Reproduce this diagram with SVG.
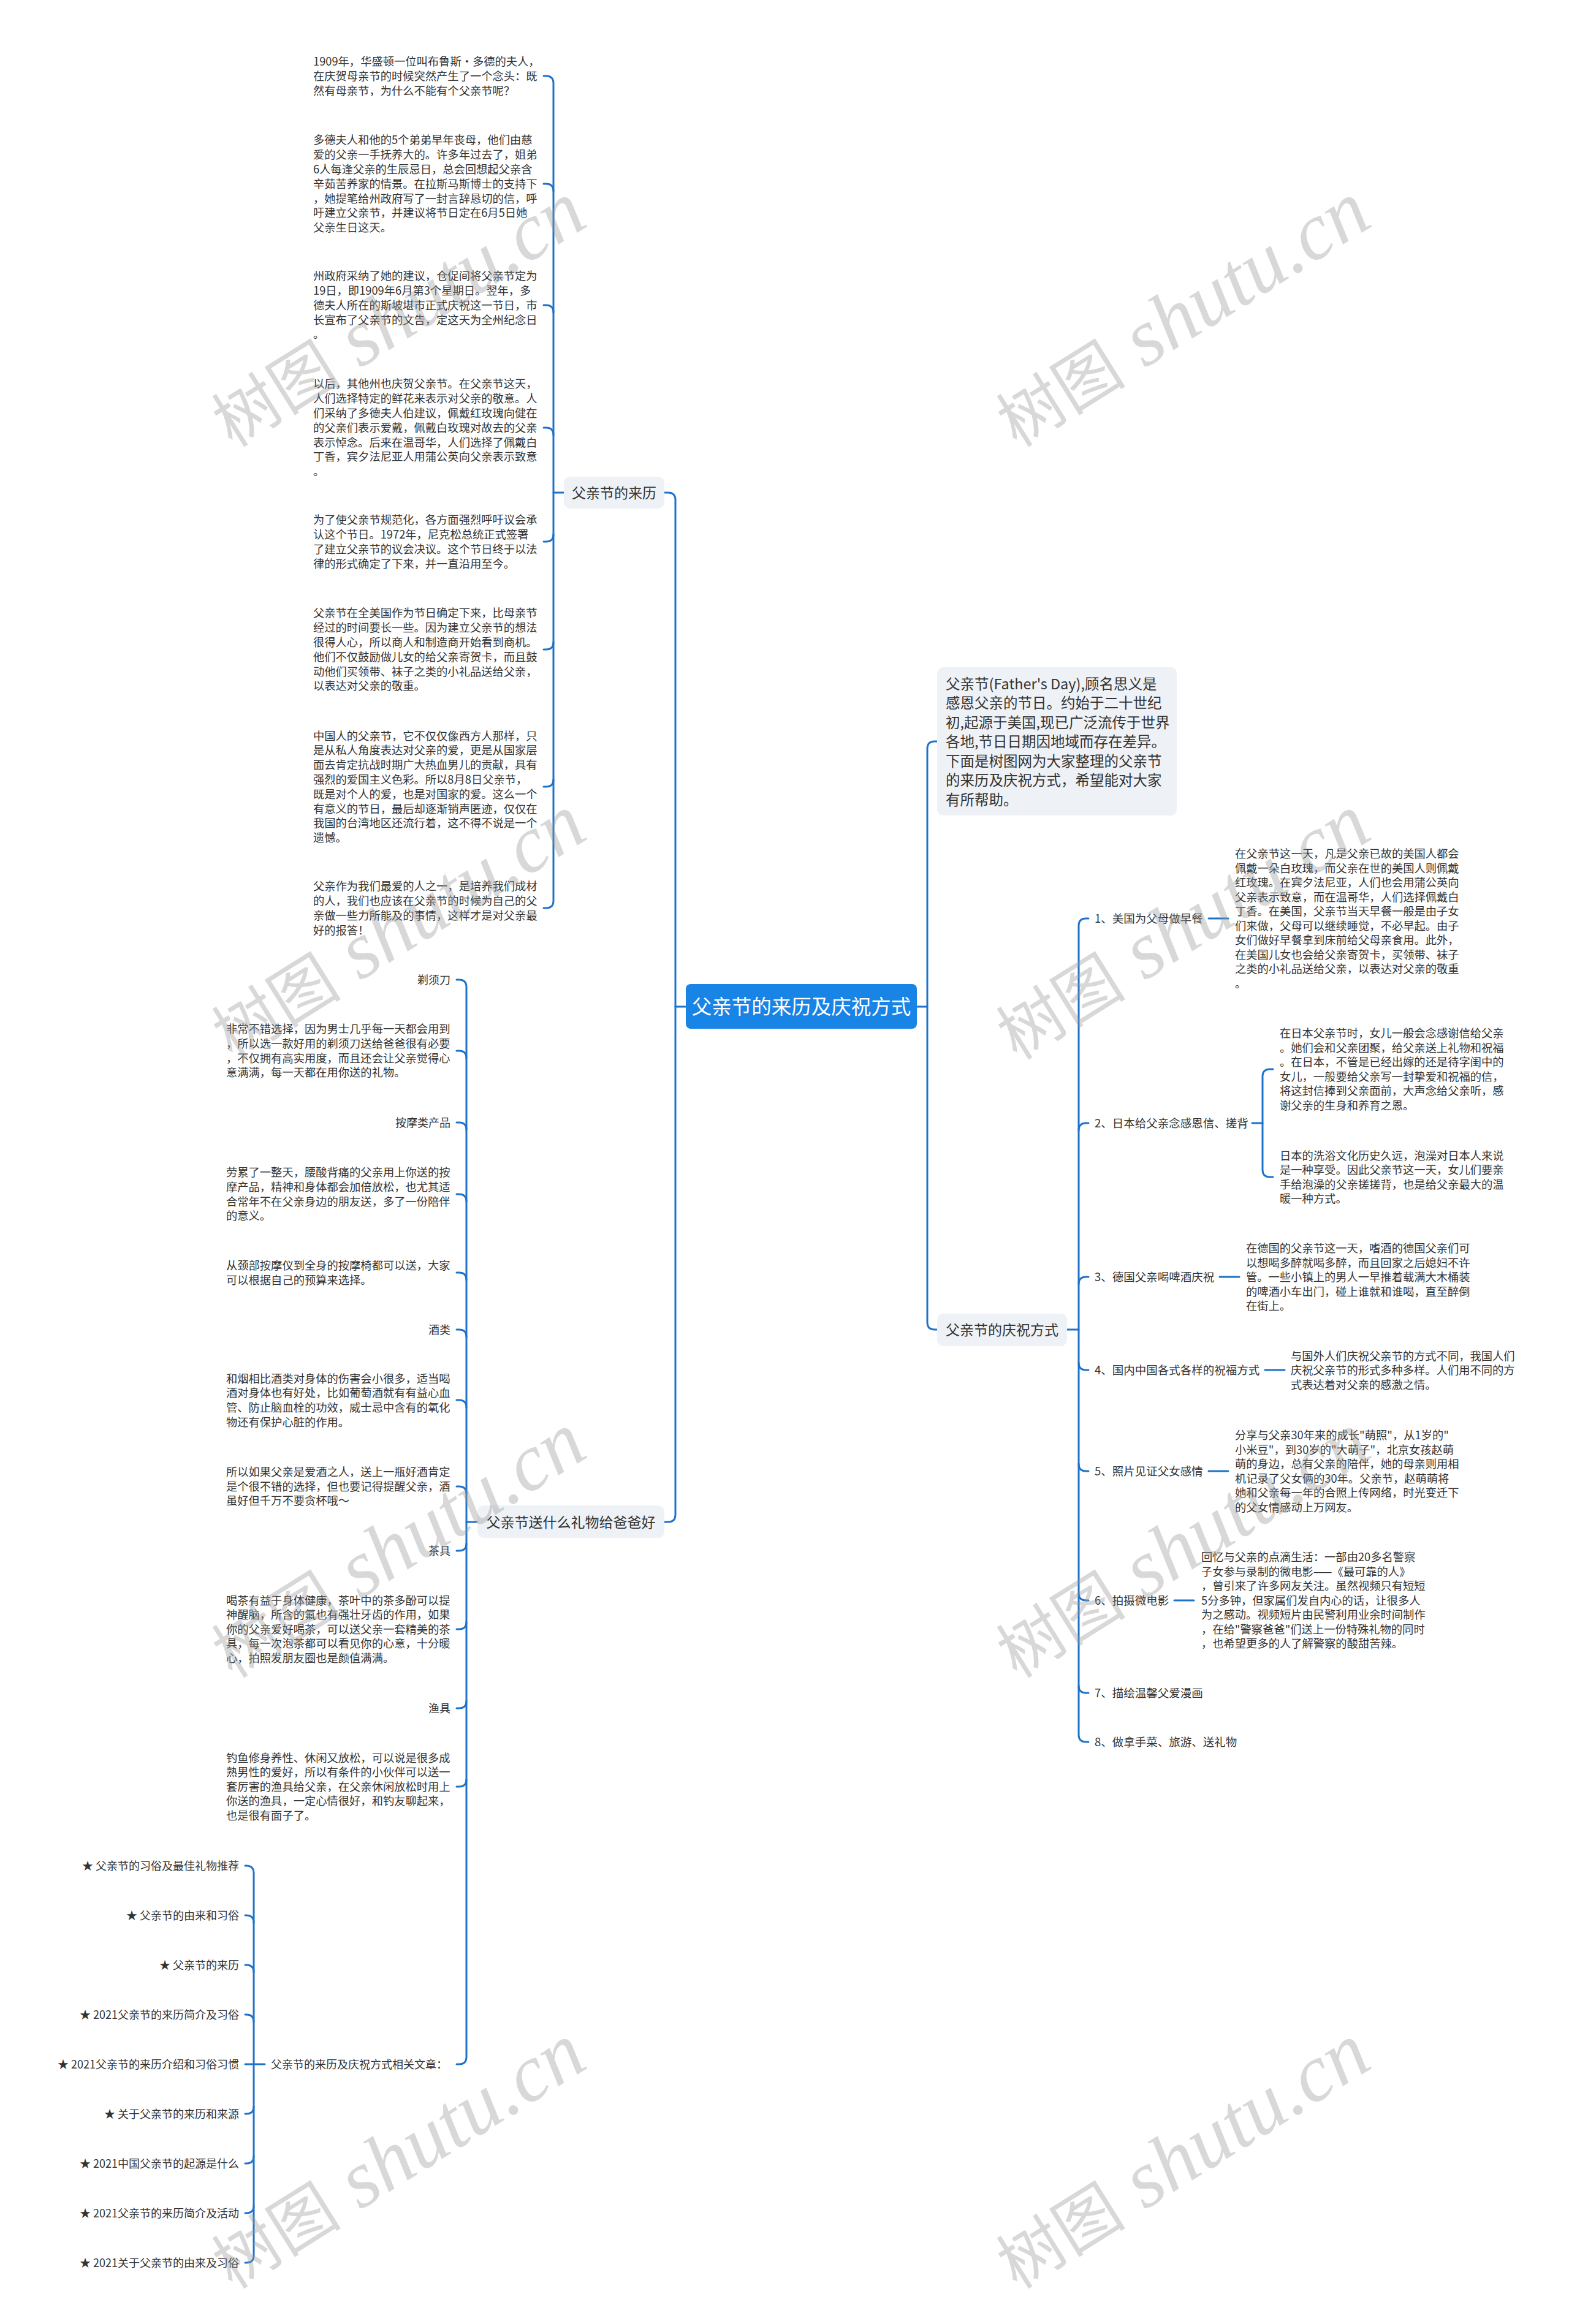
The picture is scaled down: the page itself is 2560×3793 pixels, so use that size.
<svg xmlns="http://www.w3.org/2000/svg" width="2560" height="3793" viewBox="0 0 2560 3793">
<style>
.tx{font-family:"Noto Sans CJK SC","Liberation Sans",sans-serif;fill:#333}
.f18{font-size:18.3px}
.fi{font-size:18.5px}
.fa{font-size:18px}
.f23{font-size:23px}
.fin{font-size:23.5px}
.box{fill:#eef1f5}
.ln{fill:none;stroke:#1d72c9;stroke-width:3;stroke-linecap:round;stroke-linejoin:round}
.wm{font-family:"Liberation Serif",serif;font-style:italic;font-size:132px;fill:#999;fill-opacity:0.38}
.wm tspan.c{font-family:"Noto Sans CJK SC",sans-serif;font-style:normal;font-size:106px}
</style>
<rect width="2560" height="3793" fill="#ffffff"/>

<g id="connectors">
<path class="ln" d="M1496,1643 H1513"/>
<path class="ln" d="M1529,1210 H1525 Q1513,1210 1513,1222 V2158 Q1513,2170 1525,2170 H1529"/>
<path class="ln" d="M1119,1643 H1102"/>
<path class="ln" d="M1084,804 H1090 Q1102,804 1102,816 V2472 Q1102,2484 1090,2484 H1084"/>
<path class="ln" d="M920,804 H903"/>
<path class="ln" d="M887,124 H891 Q903,124 903,136 V1470 Q903,1482 891,1482 H887"/>
<path class="ln" d="M887,300 H891 Q903,300 903,312 M887,498 H891 Q903,498 903,510 M887,698 H891 Q903,698 903,710 M887,884 H891 Q903,884 903,872 M887,1060 H891 Q903,1060 903,1048 M887,1284 H891 Q903,1284 903,1272"/>
<path class="ln" d="M1741,2170 H1760"/>
<path class="ln" d="M1776,1499 H1772 Q1760,1499 1760,1511 V2831 Q1760,2843 1772,2843 H1776"/>
<path class="ln" d="M1776,1833 H1772 Q1760,1833 1760,1845 M1776,2084 H1772 Q1760,2084 1760,2096 M1776,2236 H1772 Q1760,2236 1760,2224 M1776,2401 H1772 Q1760,2401 1760,2389 M1776,2612 H1772 Q1760,2612 1760,2600 M1776,2763 H1772 Q1760,2763 1760,2751"/>
<path class="ln" d="M1972,1499 H2004"/>
<path class="ln" d="M2043,1833 H2060"/>
<path class="ln" d="M2077,1745 H2072 Q2060,1745 2060,1757 V1909 Q2060,1921 2072,1921 H2077"/>
<path class="ln" d="M1990,2084 H2022"/>
<path class="ln" d="M2064,2236 H2096"/>
<path class="ln" d="M1972,2401 H2004"/>
<path class="ln" d="M1916,2612 H1948"/>
<path class="ln" d="M779,2484 H761"/>
<path class="ln" d="M745,1599 H749 Q761,1599 761,1611 V3357 Q761,3369 749,3369 H745"/>
<path class="ln" d="M745,1715 H749 Q761,1715 761,1727 M745,1832 H749 Q761,1832 761,1844 M745,1949 H749 Q761,1949 761,1961 M745,2077 H749 Q761,2077 761,2089 M745,2170 H749 Q761,2170 761,2182 M745,2285 H749 Q761,2285 761,2297 M745,2426 H749 Q761,2426 761,2438 M745,2531 H749 Q761,2531 761,2519 M745,2659 H749 Q761,2659 761,2647 M745,2788 H749 Q761,2788 761,2776 M745,2916 H749 Q761,2916 761,2904"/>
<path class="ln" d="M432,3369 H400"/>
<path class="ln" d="M400,3045 H402 Q414,3045 414,3057 V3681 Q414,3693 402,3693 H400"/>
<path class="ln" d="M400,3126 H402 Q414,3126 414,3138 M400,3207 H402 Q414,3207 414,3219 M400,3288 H402 Q414,3288 414,3300 M400,3450 H402 Q414,3450 414,3438 M400,3531 H402 Q414,3531 414,3519 M400,3612 H402 Q414,3612 414,3600"/>
</g>

<g id="root">
<rect x="1119" y="1606" width="377" height="73" rx="8" fill="#1784e6"/>
<text x="1307.5" y="1655" text-anchor="middle" style="font-family:'Noto Sans CJK SC',sans-serif;font-size:32.5px;fill:#ffffff">父亲节的来历及庆祝方式</text>
</g>

<g id="intro">
<rect class="box" x="1529" y="1089" width="391" height="242" rx="10"/>
<text class="tx fin">
<tspan x="1543" y="1124.7">父亲节(Father's Day),顾名思义是</tspan>
<tspan x="1543" y="1156.2">感恩父亲的节日。约始于二十世纪</tspan>
<tspan x="1543" y="1187.7">初,起源于美国,现已广泛流传于世界</tspan>
<tspan x="1543" y="1219.2">各地,节日日期因地域而存在差异。</tspan>
<tspan x="1543" y="1250.7">下面是树图网为大家整理的父亲节</tspan>
<tspan x="1543" y="1282.2">的来历及庆祝方式，希望能对大家</tspan>
<tspan x="1543" y="1313.7">有所帮助。</tspan>
</text>
</g>

<g id="origin">
<rect class="box" x="920" y="778" width="164" height="52" rx="10"/>
<text class="tx f23" x="1002" y="812.5" text-anchor="middle">父亲节的来历</text>
</g>

<g id="origin-1">
<text class="tx f18">
<tspan x="511" y="107">1909年，华盛顿一位叫布鲁斯·多德的夫人，</tspan>
<tspan x="511" y="130.8">在庆贺母亲节的时候突然产生了一个念头：既</tspan>
<tspan x="511" y="154.6">然有母亲节，为什么不能有个父亲节呢？</tspan>
</text>
</g>
<g id="origin-2">
<text class="tx f18">
<tspan x="511" y="235.4">多德夫人和他的5个弟弟早年丧母，他们由慈</tspan>
<tspan x="511" y="259.2">爱的父亲一手抚养大的。许多年过去了，姐弟</tspan>
<tspan x="511" y="283">6人每逢父亲的生辰忌日，总会回想起父亲含</tspan>
<tspan x="511" y="306.8">辛茹苦养家的情景。在拉斯马斯博士的支持下</tspan>
<tspan x="511" y="330.6">，她提笔给州政府写了一封言辞恳切的信，呼</tspan>
<tspan x="511" y="354.4">吁建立父亲节，并建议将节日定在6月5日她</tspan>
<tspan x="511" y="378.2">父亲生日这天。</tspan>
</text>
</g>
<g id="origin-3">
<text class="tx f18">
<tspan x="511" y="457.2">州政府采纳了她的建议，仓促间将父亲节定为</tspan>
<tspan x="511" y="481">19日，即1909年6月第3个星期日。翌年，多</tspan>
<tspan x="511" y="504.8">德夫人所在的斯坡堪市正式庆祝这一节日，市</tspan>
<tspan x="511" y="528.6">长宣布了父亲节的文告，定这天为全州纪念日</tspan>
<tspan x="511" y="552.4">。</tspan>
</text>
</g>
<g id="origin-4">
<text class="tx f18">
<tspan x="511" y="633.4">以后，其他州也庆贺父亲节。在父亲节这天，</tspan>
<tspan x="511" y="657.2">人们选择特定的鲜花来表示对父亲的敬意。人</tspan>
<tspan x="511" y="681">们采纳了多德夫人伯建议，佩戴红玫瑰向健在</tspan>
<tspan x="511" y="704.8">的父亲们表示爱戴，佩戴白玫瑰对故去的父亲</tspan>
<tspan x="511" y="728.6">表示悼念。后来在温哥华，人们选择了佩戴白</tspan>
<tspan x="511" y="752.4">丁香，宾夕法尼亚人用蒲公英向父亲表示致意</tspan>
<tspan x="511" y="776.2">。</tspan>
</text>
</g>
<g id="origin-5">
<text class="tx f18">
<tspan x="511" y="855.1">为了使父亲节规范化，各方面强烈呼吁议会承</tspan>
<tspan x="511" y="878.9">认这个节日。1972年，尼克松总统正式签署</tspan>
<tspan x="511" y="902.7">了建立父亲节的议会决议。这个节日终于以法</tspan>
<tspan x="511" y="926.5">律的形式确定了下来，并一直沿用至今。</tspan>
</text>
</g>
<g id="origin-6">
<text class="tx f18">
<tspan x="511" y="1007.3">父亲节在全美国作为节日确定下来，比母亲节</tspan>
<tspan x="511" y="1031.1">经过的时间要长一些。因为建立父亲节的想法</tspan>
<tspan x="511" y="1054.9">很得人心，所以商人和制造商开始看到商机。</tspan>
<tspan x="511" y="1078.7">他们不仅鼓励做儿女的给父亲寄贺卡，而且鼓</tspan>
<tspan x="511" y="1102.5">动他们买领带、袜子之类的小礼品送给父亲，</tspan>
<tspan x="511" y="1126.3">以表达对父亲的敬重。</tspan>
</text>
</g>
<g id="origin-7">
<text class="tx f18">
<tspan x="511" y="1207.5">中国人的父亲节，它不仅仅像西方人那样，只</tspan>
<tspan x="511" y="1231.3">是从私人角度表达对父亲的爱，更是从国家层</tspan>
<tspan x="511" y="1255.1">面去肯定抗战时期广大热血男儿的贡献，具有</tspan>
<tspan x="511" y="1278.9">强烈的爱国主义色彩。所以8月8日父亲节，</tspan>
<tspan x="511" y="1302.7">既是对个人的爱，也是对国家的爱。这么一个</tspan>
<tspan x="511" y="1326.5">有意义的节日，最后却逐渐销声匿迹，仅仅在</tspan>
<tspan x="511" y="1350.3">我国的台湾地区还流行着，这不得不说是一个</tspan>
<tspan x="511" y="1374.1">遗憾。</tspan>
</text>
</g>
<g id="origin-8">
<text class="tx f18">
<tspan x="511" y="1453.1">父亲作为我们最爱的人之一，是培养我们成材</tspan>
<tspan x="511" y="1476.9">的人，我们也应该在父亲节的时候为自己的父</tspan>
<tspan x="511" y="1500.7">亲做一些力所能及的事情，这样才是对父亲最</tspan>
<tspan x="511" y="1524.5">好的报答！</tspan>
</text>
</g>

<g id="celebrate">
<rect class="box" x="1529" y="2144" width="212" height="53" rx="10"/>
<text class="tx f23" x="1635" y="2178.5" text-anchor="middle">父亲节的庆祝方式</text>
</g>
<g id="c1">
<text class="tx fi" x="1786" y="1505.9">1、美国为父母做早餐</text>
<text class="tx f18">
<tspan x="2015" y="1400">在父亲节这一天，凡是父亲已故的美国人都会</tspan>
<tspan x="2015" y="1423.5">佩戴一朵白玫瑰，而父亲在世的美国人则佩戴</tspan>
<tspan x="2015" y="1447">红玫瑰。在宾夕法尼亚，人们也会用蒲公英向</tspan>
<tspan x="2015" y="1470.5">父亲表示致意，而在温哥华，人们选择佩戴白</tspan>
<tspan x="2015" y="1494">丁香。在美国，父亲节当天早餐一般是由子女</tspan>
<tspan x="2015" y="1517.5">们来做，父母可以继续睡觉，不必早起。由子</tspan>
<tspan x="2015" y="1541">女们做好早餐拿到床前给父母亲食用。此外，</tspan>
<tspan x="2015" y="1564.5">在美国儿女也会给父亲寄贺卡，买领带、袜子</tspan>
<tspan x="2015" y="1588">之类的小礼品送给父亲，以表达对父亲的敬重</tspan>
<tspan x="2015" y="1611.5">。</tspan>
</text>
</g>
<g id="c2">
<text class="tx fi" x="1786" y="1839.9">2、日本给父亲念感恩信、搓背</text>
<text class="tx f18">
<tspan x="2088" y="1693">在日本父亲节时，女儿一般会念感谢信给父亲</tspan>
<tspan x="2088" y="1716.5">。她们会和父亲团聚，给父亲送上礼物和祝福</tspan>
<tspan x="2088" y="1740">。在日本，不管是已经出嫁的还是待字闺中的</tspan>
<tspan x="2088" y="1763.5">女儿，一般要给父亲写一封挚爱和祝福的信，</tspan>
<tspan x="2088" y="1787">将这封信捧到父亲面前，大声念给父亲听，感</tspan>
<tspan x="2088" y="1810.5">谢父亲的生身和养育之恩。</tspan>
</text>
<text class="tx f18">
<tspan x="2088" y="1892.5">日本的洗浴文化历史久远，泡澡对日本人来说</tspan>
<tspan x="2088" y="1916">是一种享受。因此父亲节这一天，女儿们要亲</tspan>
<tspan x="2088" y="1939.5">手给泡澡的父亲搓搓背，也是给父亲最大的温</tspan>
<tspan x="2088" y="1963">暖一种方式。</tspan>
</text>
</g>
<g id="c3">
<text class="tx fi" x="1786" y="2091.4">3、德国父亲喝啤酒庆祝</text>
<text class="tx f18">
<tspan x="2033" y="2044.3">在德国的父亲节这一天，嗜酒的德国父亲们可</tspan>
<tspan x="2033" y="2067.8">以想喝多醉就喝多醉，而且回家之后媳妇不许</tspan>
<tspan x="2033" y="2091.3">管。一些小镇上的男人一早推着载满大木桶装</tspan>
<tspan x="2033" y="2114.8">的啤酒小车出门，碰上谁就和谁喝，直至醉倒</tspan>
<tspan x="2033" y="2138.3">在街上。</tspan>
</text>
</g>
<g id="c4">
<text class="tx fi" x="1786" y="2243.4">4、国内中国各式各样的祝福方式</text>
<text class="tx f18">
<tspan x="2106" y="2219.8">与国外人们庆祝父亲节的方式不同，我国人们</tspan>
<tspan x="2106" y="2243.3">庆祝父亲节的形式多种多样。人们用不同的方</tspan>
<tspan x="2106" y="2266.8">式表达着对父亲的感激之情。</tspan>
</text>
</g>
<g id="c5">
<text class="tx fi" x="1786" y="2407.9">5、照片见证父女感情</text>
<text class="tx f18">
<tspan x="2015" y="2349">分享与父亲30年来的成长"萌照"，从1岁的"</tspan>
<tspan x="2015" y="2372.5">小米豆"，到30岁的"大萌子"，北京女孩赵萌</tspan>
<tspan x="2015" y="2396">萌的身边，总有父亲的陪伴，她的母亲则用相</tspan>
<tspan x="2015" y="2419.5">机记录了父女俩的30年。父亲节，赵萌萌将</tspan>
<tspan x="2015" y="2443">她和父亲每一年的合照上传网络，时光变迁下</tspan>
<tspan x="2015" y="2466.5">的父女情感动上万网友。</tspan>
</text>
</g>
<g id="c6">
<text class="tx fi" x="1786" y="2618.9">6、拍摄微电影</text>
<text class="tx f18">
<tspan x="1960" y="2548.3">回忆与父亲的点滴生活：一部由20多名警察</tspan>
<tspan x="1960" y="2571.8">子女参与录制的微电影——《最可靠的人》</tspan>
<tspan x="1960" y="2595.3">，曾引来了许多网友关注。虽然视频只有短短</tspan>
<tspan x="1960" y="2618.8">5分多钟，但家属们发自内心的话，让很多人</tspan>
<tspan x="1960" y="2642.3">为之感动。视频短片由民警利用业余时间制作</tspan>
<tspan x="1960" y="2665.8">，在给"警察爸爸"们送上一份特殊礼物的同时</tspan>
<tspan x="1960" y="2689.3">，也希望更多的人了解警察的酸甜苦辣。</tspan>
</text>
</g>
<g id="c7"><text class="tx fi" x="1786" y="2769.9">7、描绘温馨父爱漫画</text></g>
<g id="c8"><text class="tx fi" x="1786" y="2849.9">8、做拿手菜、旅游、送礼物</text></g>

<g id="gift">
<rect class="box" x="779" y="2457" width="305" height="53" rx="10"/>
<text class="tx f23" x="931.5" y="2492.5" text-anchor="middle">父亲节送什么礼物给爸爸好</text>
</g>
<g id="g-razor"><text class="tx fa" x="735" y="1605.7" text-anchor="end">剃须刀</text></g>
<g id="g-razor-t">
<text class="tx f18">
<tspan x="369" y="1686.4">非常不错选择，因为男士几乎每一天都会用到</tspan>
<tspan x="369" y="1710">，所以选一款好用的剃须刀送给爸爸很有必要</tspan>
<tspan x="369" y="1733.6">，不仅拥有高实用度，而且还会让父亲觉得心</tspan>
<tspan x="369" y="1757.2">意满满，每一天都在用你送的礼物。</tspan>
</text>
</g>
<g id="g-massage"><text class="tx fa" x="735" y="1838.7" text-anchor="end">按摩类产品</text></g>
<g id="g-massage-t1">
<text class="tx f18">
<tspan x="369" y="1920.4">劳累了一整天，腰酸背痛的父亲用上你送的按</tspan>
<tspan x="369" y="1944">摩产品，精神和身体都会加倍放松，也尤其适</tspan>
<tspan x="369" y="1967.6">合常年不在父亲身边的朋友送，多了一份陪伴</tspan>
<tspan x="369" y="1991.2">的意义。</tspan>
</text>
</g>
<g id="g-massage-t2">
<text class="tx f18">
<tspan x="369" y="2072">从颈部按摩仪到全身的按摩椅都可以送，大家</tspan>
<tspan x="369" y="2095.6">可以根据自己的预算来选择。</tspan>
</text>
</g>
<g id="g-wine"><text class="tx fa" x="735" y="2176.7" text-anchor="end">酒类</text></g>
<g id="g-wine-t1">
<text class="tx f18">
<tspan x="369" y="2256.8">和烟相比酒类对身体的伤害会小很多，适当喝</tspan>
<tspan x="369" y="2280.4">酒对身体也有好处，比如葡萄酒就有有益心血</tspan>
<tspan x="369" y="2304">管、防止脑血栓的功效，威士忌中含有的氧化</tspan>
<tspan x="369" y="2327.6">物还有保护心脏的作用。</tspan>
</text>
</g>
<g id="g-wine-t2">
<text class="tx f18">
<tspan x="369" y="2409.2">所以如果父亲是爱酒之人，送上一瓶好酒肯定</tspan>
<tspan x="369" y="2432.8">是个很不错的选择，但也要记得提醒父亲，酒</tspan>
<tspan x="369" y="2456.4">虽好但千万不要贪杯哦～</tspan>
</text>
</g>
<g id="g-tea"><text class="tx fa" x="735" y="2537.7" text-anchor="end">茶具</text></g>
<g id="g-tea-t">
<text class="tx f18">
<tspan x="369" y="2618.6">喝茶有益于身体健康，茶叶中的茶多酚可以提</tspan>
<tspan x="369" y="2642.2">神醒脑，所含的氟也有强壮牙齿的作用，如果</tspan>
<tspan x="369" y="2665.8">你的父亲爱好喝茶，可以送父亲一套精美的茶</tspan>
<tspan x="369" y="2689.4">具，每一次泡茶都可以看见你的心意，十分暖</tspan>
<tspan x="369" y="2713">心，拍照发朋友圈也是颜值满满。</tspan>
</text>
</g>
<g id="g-fish"><text class="tx fa" x="735" y="2794.7" text-anchor="end">渔具</text></g>
<g id="g-fish-t">
<text class="tx f18">
<tspan x="369" y="2875.6">钓鱼修身养性、休闲又放松，可以说是很多成</tspan>
<tspan x="369" y="2899.2">熟男性的爱好，所以有条件的小伙伴可以送一</tspan>
<tspan x="369" y="2922.8">套厉害的渔具给父亲，在父亲休闲放松时用上</tspan>
<tspan x="369" y="2946.4">你送的渔具，一定心情很好，和钓友聊起来，</tspan>
<tspan x="369" y="2970">也是很有面子了。</tspan>
</text>
</g>

<g id="articles">
<text class="tx fa" x="442" y="3375.7">父亲节的来历及庆祝方式相关文章：</text>
</g>
<g id="article-items">
<text class="tx fa" x="390" y="3051.7" text-anchor="end">★ 父亲节的习俗及最佳礼物推荐</text>
<text class="tx fa" x="390" y="3132.7" text-anchor="end">★ 父亲节的由来和习俗</text>
<text class="tx fa" x="390" y="3213.7" text-anchor="end">★ 父亲节的来历</text>
<text class="tx fa" x="390" y="3294.7" text-anchor="end">★ 2021父亲节的来历简介及习俗</text>
<text class="tx fa" x="390" y="3375.7" text-anchor="end">★ 2021父亲节的来历介绍和习俗习惯</text>
<text class="tx fa" x="390" y="3456.7" text-anchor="end">★ 关于父亲节的来历和来源</text>
<text class="tx fa" x="390" y="3537.7" text-anchor="end">★ 2021中国父亲节的起源是什么</text>
<text class="tx fa" x="390" y="3618.7" text-anchor="end">★ 2021父亲节的来历简介及活动</text>
<text class="tx fa" x="390" y="3699.7" text-anchor="end">★ 2021关于父亲节的由来及习俗</text>
</g>

<g id="watermarks">
<text class="wm" x="650" y="555" text-anchor="middle" transform="rotate(-32 650 515)"><tspan class="c">树图</tspan> shutu.cn</text>
<text class="wm" x="1930" y="555" text-anchor="middle" transform="rotate(-32 1930 515)"><tspan class="c">树图</tspan> shutu.cn</text>
<text class="wm" x="650" y="1555" text-anchor="middle" transform="rotate(-32 650 1515)"><tspan class="c">树图</tspan> shutu.cn</text>
<text class="wm" x="1930" y="1555" text-anchor="middle" transform="rotate(-32 1930 1515)"><tspan class="c">树图</tspan> shutu.cn</text>
<text class="wm" x="650" y="2564" text-anchor="middle" transform="rotate(-32 650 2524)"><tspan class="c">树图</tspan> shutu.cn</text>
<text class="wm" x="1930" y="2564" text-anchor="middle" transform="rotate(-32 1930 2524)"><tspan class="c">树图</tspan> shutu.cn</text>
<text class="wm" x="650" y="3561" text-anchor="middle" transform="rotate(-32 650 3521)"><tspan class="c">树图</tspan> shutu.cn</text>
<text class="wm" x="1930" y="3561" text-anchor="middle" transform="rotate(-32 1930 3521)"><tspan class="c">树图</tspan> shutu.cn</text>
</g>
</svg>
